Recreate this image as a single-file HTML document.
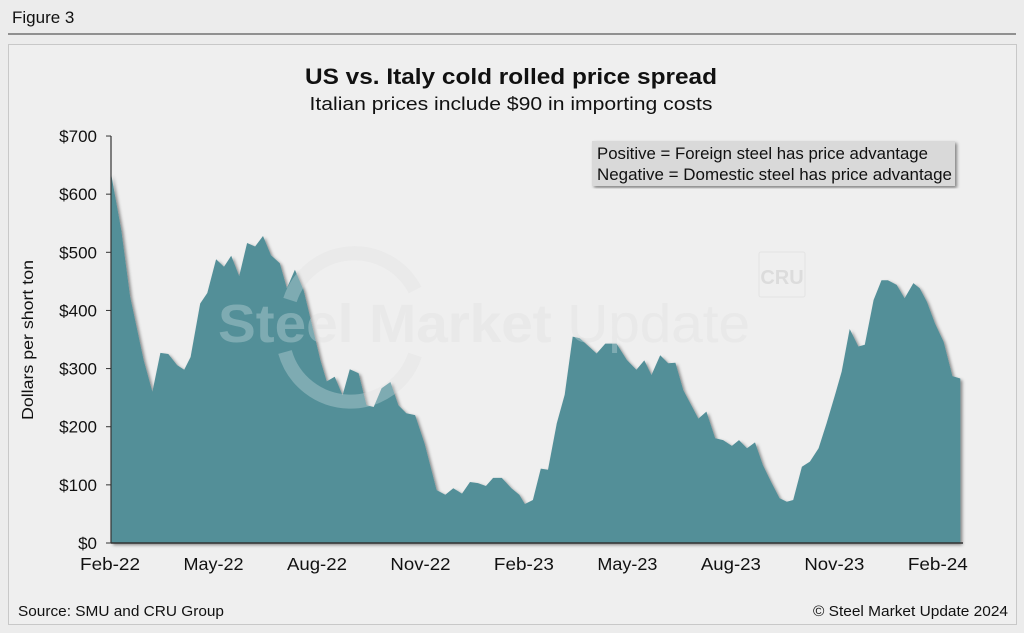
<!DOCTYPE html>
<html><head><meta charset="utf-8"><style>
body{margin:0;width:1024px;height:633px;background:#ececec;font-family:"Liberation Sans",Arial,sans-serif;overflow:hidden}
</style></head><body>
<svg width="1024" height="633" style="position:absolute;left:0;top:0">
<defs><filter id="sh" x="-5%" y="-5%" width="110%" height="110%"><feDropShadow dx="2" dy="2" stdDeviation="1.6" flood-color="#000" flood-opacity="0.45"/></filter></defs>
<text x="12" y="23" font-size="17" fill="#111">Figure 3</text>
<line x1="8" y1="34" x2="1016" y2="34" stroke="#333" stroke-width="1"/>
<rect x="8.5" y="44.5" width="1008" height="580" fill="#efefef" stroke="#c8c8c8"/>
<text x="511" y="84" text-anchor="middle" font-size="22" font-weight="bold" fill="#111" textLength="412" lengthAdjust="spacingAndGlyphs">US vs. Italy cold rolled price spread</text>
<text x="511" y="110" text-anchor="middle" font-size="18" fill="#111" textLength="403" lengthAdjust="spacingAndGlyphs">Italian prices include $90 in importing costs</text>
<g>
<path d="M 290 300 A 68 68 0 0 1 415 290" fill="none" stroke="#e3e3e3" stroke-width="14"/>
<path d="M 285 352 A 68 68 0 0 0 415 355" fill="none" stroke="#e3e3e3" stroke-width="14"/>
<text x="218" y="342" font-size="54" font-weight="bold" fill="#e2e2e2" textLength="532" lengthAdjust="spacingAndGlyphs">Steel Market <tspan font-weight="normal">Update</tspan></text>
</g>
<g id="plot"></g>
<g>
<path d="M 290 300 A 68 68 0 0 1 415 290" fill="none" stroke="#fff" stroke-opacity="0.25" stroke-width="14"/>
<path d="M 285 352 A 68 68 0 0 0 415 355" fill="none" stroke="#fff" stroke-opacity="0.25" stroke-width="14"/>
<text x="218" y="342" font-size="54" font-weight="bold" fill="#fff" fill-opacity="0.25" textLength="532" lengthAdjust="spacingAndGlyphs">Steel Market <tspan font-weight="normal">Update</tspan></text>
<rect x="759" y="252" width="46" height="45" fill="none" stroke="#e3e3e3" rx="2"/>
<text x="782" y="284" text-anchor="middle" font-size="20" font-weight="bold" fill="#dcdcdc">CRU</text>
</g>
<text transform="translate(33,340) rotate(-90)" text-anchor="middle" font-size="16" fill="#111" textLength="160" lengthAdjust="spacingAndGlyphs">Dollars per short ton</text>
<g>
<rect x="592" y="141" width="363" height="45" fill="#d9d9d9" filter="url(#sh)"/>
<text x="597" y="159" font-size="16.5" fill="#111" textLength="331" lengthAdjust="spacingAndGlyphs">Positive = Foreign steel has price advantage</text>
<text x="597" y="180" font-size="16.5" fill="#111" textLength="355" lengthAdjust="spacingAndGlyphs">Negative = Domestic steel has price advantage</text>
</g>
<text x="18" y="616" font-size="15" fill="#111" textLength="206" lengthAdjust="spacingAndGlyphs">Source: SMU and CRU Group</text>
<text x="1008" y="616" text-anchor="end" font-size="15" fill="#111" textLength="195" lengthAdjust="spacingAndGlyphs">© Steel Market Update 2024</text>
</svg>
<script>
const weeks=[0,1.3,2.4,4.1,5.2,6.2,7.2,8.3,9.2,10.0,11.2,12.1,13.2,14.2,15.1,16.1,17.1,18.1,19.1,20.1,21.2,22.1,23.1,24.2,25.2,26.3,27.1,28.1,29.1,30.0,31.1,32.1,33.0,34.0,35.1,36.1,37.1,38.2,39.4,40.9,42.0,43.0,44.1,45.1,46.1,47.1,48.0,49.1,50.3,51.3,52.0,53.0,54.0,54.9,56.0,57.0,58.0,58.9,61.0,62.1,63.5,64.8,66.0,67.0,67.9,69.0,70.0,70.9,71.9,73.8,74.8,75.9,76.9,78.0,78.9,79.9,80.9,81.9,83.0,84.0,84.9,85.7,86.8,87.8,88.9,89.9,91.0,91.8,92.8,93.9,94.7,95.8,96.8,97.6,98.7,99.7,100.8,101.6,102.5,103.5,104.6,105.7,106.7];
const spread=[636,538,424,315,260,327,325,306,298,320,412,430,488,475,494,459,516,510,528,495,481,438,470,435,378,315,278,286,254,299,292,237,234,266,277,237,223,220,171,91,83,94,85,105,103,98,112,112,94,83,67,74,128,126,206,255,355,352,326,343,343,315,298,314,289,323,309,310,263,214,226,180,177,167,177,163,173,134,103,77,71,74,131,140,163,206,257,295,368,338,341,418,452,452,444,421,447,438,415,378,346,287,283];
const yTicks=[0,100,200,300,400,500,600,700];
const xTickLabels=["Feb-22","May-22","Aug-22","Nov-22","Feb-23","May-23","Aug-23","Nov-23","Feb-24"];
const xTickWeeks=[0,13,26,39,52,65,78,91,104];
const X=w=>111+w*7.96, Y=v=>543-v*0.5814;
const NS="http://www.w3.org/2000/svg",g=document.getElementById('plot');
function mk(t,a){const e=document.createElementNS(NS,t);for(const k in a)e.setAttribute(k,a[k]);g.appendChild(e);return e;}
let d="M"+X(weeks[0])+","+Y(0);
weeks.forEach((w,i)=>d+=" L"+X(w).toFixed(1)+","+Y(spread[i]).toFixed(1));
d+=" L"+X(weeks[weeks.length-1])+","+Y(0)+" Z";
const area=mk('path',{d:d,fill:"#528f98",filter:"url(#sh)"});


yTicks.forEach(v=>{
 mk('line',{x1:106,x2:111,y1:Y(v),y2:Y(v),stroke:"#333"});
 const t=mk('text',{x:97,y:Y(v)+6,"text-anchor":"end","font-size":17,fill:"#111"});
 t.textContent="$"+v;
 
 
});
xTickWeeks.forEach((w,i)=>{
 const t=mk('text',{x:X(w)-1,y:570,"text-anchor":"middle","font-size":17.5,fill:"#111",textLength:60,lengthAdjust:"spacingAndGlyphs"});
 t.textContent=xTickLabels[i];
 
 
});
const ya=mk('line',{x1:111,x2:111,y1:Y(700),y2:543,stroke:"#333","stroke-width":1.2});


const xa=mk('line',{x1:111,x2:963,y1:543,y2:543,stroke:"#333","stroke-width":1.5});


</script>
</body></html>
